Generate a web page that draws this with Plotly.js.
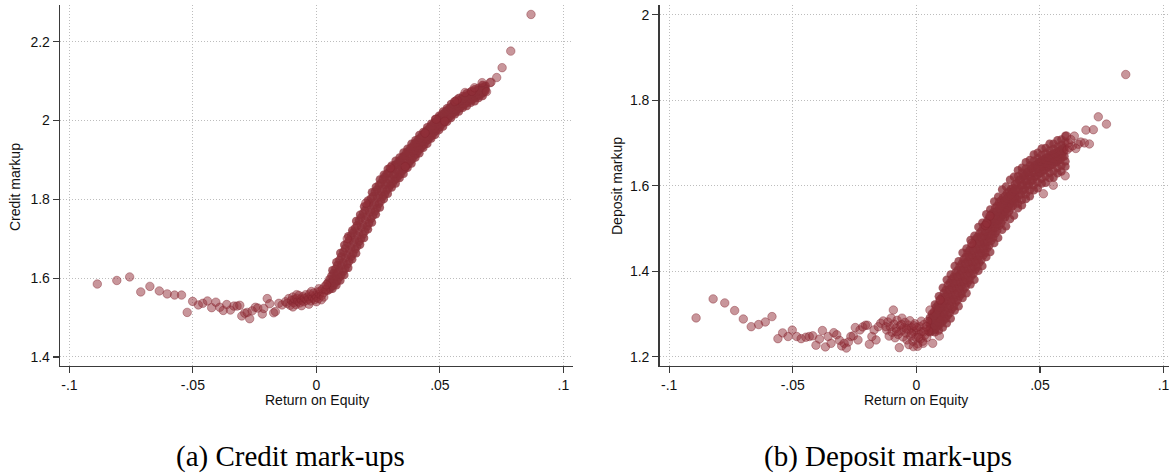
<!DOCTYPE html>
<html>
<head>
<meta charset="utf-8">
<script src="https://cdn.plot.ly/plotly-3.0.1.min.js"></script>
<style>html,body{margin:0;padding:0;background:#fff;}#chart{width:1169px;height:475px;}</style>
</head>
<body>
<div id="chart"></div>
<script>
// ---------- Panel (a): Credit mark-ups ----------
const credSparseX = [-0.0887,-0.0808,-0.0756,-0.0711,-0.0674,-0.0636,-0.0604,-0.0574,-0.0546,-0.0523,-0.0501,-0.0478,-0.0460,-0.0441,-0.0424,-0.0407,-0.0391,-0.0377,-0.0363,-0.0348,-0.0334,-0.0321,-0.0310,-0.0302,-0.0290,-0.0280,-0.0270,-0.0260,-0.0247,-0.0237,-0.0219,-0.0213,-0.0199,-0.0189,-0.0173,-0.0166,-0.0152,-0.0139,-0.0125];
const credSparseY = [1.585,1.594,1.603,1.565,1.579,1.5675,1.560,1.557,1.557,1.513,1.541,1.532,1.536,1.542,1.525,1.539,1.526,1.518,1.533,1.519,1.529,1.529,1.531,1.504,1.511,1.513,1.497,1.517,1.526,1.524,1.509,1.523,1.548,1.535,1.512,1.515,1.536,1.532,1.540];

const credNearX = [-0.0118,-0.0112,-0.0106,-0.0101,-0.0096,-0.0092,-0.0088,-0.0083,-0.0079,-0.0075,-0.0071,-0.0067,-0.0063,-0.0059,-0.0055,-0.0051,-0.0047,-0.0043,-0.0039,-0.0035,-0.0031,-0.0027,-0.0023,-0.0019,-0.0015,-0.0011,-0.0007,-0.0003,0.0001,0.0005,0.0009,0.0013,0.0017,0.0021,0.0025,0.0029,0.0033,0.0037,0.0041,-0.0095,-0.0060,-0.0030,0.0000,0.0020,-0.0080,-0.0020,0.0010,0.0030];
const credNearY = [1.536,1.548,1.531,1.543,1.552,1.538,1.546,1.533,1.549,1.541,1.556,1.537,1.547,1.543,1.553,1.540,1.549,1.558,1.544,1.552,1.547,1.560,1.542,1.555,1.549,1.562,1.545,1.556,1.551,1.565,1.548,1.559,1.567,1.556,1.572,1.563,1.578,1.570,1.583,1.527,1.530,1.534,1.540,1.545,1.558,1.566,1.573,1.552];

const credBandX = [0.0045,0.0053,0.0061,0.0069,0.0077,0.0085,0.0093,0.0101,0.0109,0.0117,0.0125,0.0133,0.0141,0.0149,0.0157,0.0165,0.0173,0.0181,0.0189,0.0197,0.0205,0.0213,0.0221,0.0229,0.0237,0.0245,0.0253,0.0261,0.0269,0.0277,0.0285,0.0293,0.0301,0.0309,0.0317,0.0325,0.0333,0.0341,0.0349,0.0357,0.0365,0.0373,0.0381,0.0389,0.0397,0.0405,0.0413,0.0421,0.0429,0.0437,0.0445,0.0453,0.0461,0.0469,0.0477,0.0485,0.0493,0.0501,0.0509,0.0517,0.0525,0.0533,0.0541,0.0549,0.0557,0.0565,0.0573,0.0581,0.0589,0.0597,0.0605,0.0613,0.0621,0.0629,0.0637,0.0645,0.0653,0.0661,0.0669,0.0677,0.0685];
const credBandLo = [1.568,1.571,1.578,1.581,1.588,1.593,1.602,1.607,1.617,1.624,1.635,1.643,1.654,1.662,1.673,1.680,1.692,1.700,1.711,1.719,1.731,1.739,1.750,1.758,1.769,1.777,1.788,1.795,1.807,1.813,1.823,1.828,1.836,1.841,1.849,1.853,1.860,1.864,1.873,1.877,1.885,1.890,1.898,1.902,1.911,1.915,1.923,1.928,1.935,1.939,1.948,1.951,1.958,1.962,1.970,1.974,1.981,1.984,1.991,1.995,2.002,2.005,2.011,2.015,2.021,2.023,2.029,2.031,2.037,2.039,2.044,2.046,2.051,2.052,2.056,2.058,2.062,2.064,2.068,2.071,2.075];
const credBandMid = [1.579,1.585,1.590,1.599,1.604,1.615,1.622,1.633,1.640,1.652,1.660,1.672,1.679,1.691,1.698,1.709,1.717,1.729,1.736,1.748,1.756,1.767,1.774,1.785,1.792,1.803,1.810,1.820,1.827,1.837,1.842,1.850,1.854,1.862,1.866,1.873,1.876,1.884,1.888,1.896,1.900,1.908,1.912,1.920,1.924,1.932,1.936,1.944,1.947,1.955,1.959,1.966,1.969,1.977,1.980,1.988,1.991,1.998,2.001,2.008,2.011,2.018,2.020,2.027,2.029,2.035,2.037,2.043,2.044,2.050,2.051,2.056,2.057,2.062,2.063,2.067,2.068,2.073,2.074,2.079,2.080];
const credBandHi = [1.588,1.597,1.606,1.613,1.624,1.633,1.646,1.655,1.667,1.676,1.689,1.697,1.708,1.716,1.727,1.734,1.746,1.754,1.765,1.773,1.785,1.791,1.802,1.808,1.819,1.825,1.836,1.841,1.851,1.857,1.865,1.868,1.876,1.879,1.887,1.889,1.896,1.900,1.907,1.911,1.919,1.922,1.930,1.934,1.941,1.945,1.953,1.956,1.963,1.967,1.974,1.977,1.984,1.988,1.994,1.998,2.005,2.009,2.015,2.018,2.024,2.027,2.033,2.035,2.041,2.043,2.048,2.051,2.055,2.057,2.062,2.063,2.067,2.068,2.072,2.073,2.077,2.078,2.083,2.084,2.088];

const credEdgeX = [0.0065,0.0081,0.0097,0.0113,0.0129,0.0145,0.0161,0.0177,0.0193,0.0209,0.0225,0.0241,0.0257,0.0273,0.0289,0.0305,0.0321,0.0337,0.0353,0.0369,0.0385,0.0401,0.0417,0.0433,0.0449,0.0465,0.0481,0.0497,0.0513,0.0529,0.0545,0.0561,0.0577,0.0593,0.0609,0.0625,0.0641,0.0657,0.0673];
const credEdgeHi = [1.620,1.640,1.664,1.684,1.706,1.721,1.745,1.761,1.782,1.797,1.818,1.831,1.850,1.862,1.877,1.886,1.898,1.906,1.919,1.928,1.941,1.950,1.963,1.971,1.983,1.992,2.004,2.012,2.023,2.031,2.042,2.048,2.057,2.062,2.069,2.073,2.079,2.083,2.090];
const credEdgeLo = [1.573,1.582,1.594,1.608,1.626,1.648,1.663,1.685,1.702,1.724,1.741,1.762,1.779,1.801,1.814,1.830,1.840,1.854,1.865,1.880,1.891,1.906,1.917,1.931,1.941,1.954,1.964,1.976,1.985,1.997,2.006,2.016,2.023,2.032,2.037,2.045,2.049,2.057,2.062];

const credTopX = [0.0569,0.0602,0.0629,0.0671,0.0703,0.0707,0.0730,0.0752,0.0787,0.0869,0.0485,0.0125,0.0200,0.0300,0.0360,0.0440,0.0520,0.0640,0.0689,0.0560];
const credTopY = [2.052,2.071,2.074,2.096,2.096,2.097,2.109,2.134,2.176,2.269,2.003,1.700,1.790,1.880,1.883,1.968,1.998,2.083,2.073,2.048];

// ---------- Panel (b): Deposit mark-ups ----------
const depSparseX = [-0.0891,-0.0822,-0.0775,-0.0735,-0.0700,-0.0668,-0.0638,-0.0611,-0.0584,-0.0560,-0.0541,-0.0519,-0.0502,-0.0484,-0.0466,-0.0447,-0.0433,-0.0419,-0.0406,-0.0392,-0.0380,-0.0368,-0.0357,-0.0345,-0.0334,-0.0322,-0.0311,-0.0302,-0.0292,-0.0283,-0.0275,-0.0265,-0.0255,-0.0247,-0.0236,-0.0228,-0.0217,-0.0206,-0.0198,-0.0190,-0.0180,-0.0171,-0.0163,-0.0154,-0.0144,-0.0134,-0.0123];
const depSparseY = [1.2905,1.335,1.3256,1.3077,1.288,1.270,1.275,1.281,1.2936,1.242,1.2555,1.247,1.262,1.247,1.242,1.2453,1.247,1.2485,1.2267,1.241,1.261,1.2227,1.247,1.231,1.256,1.251,1.238,1.225,1.231,1.220,1.234,1.247,1.2485,1.268,1.239,1.2625,1.2695,1.2734,1.2734,1.229,1.247,1.2625,1.239,1.270,1.278,1.2835,1.270];

const depNearX = [-0.0120,-0.0115,-0.0110,-0.0106,-0.0102,-0.0098,-0.0093,-0.0090,-0.0086,-0.0082,-0.0078,-0.0074,-0.0069,-0.0066,-0.0062,-0.0058,-0.0054,-0.0050,-0.0046,-0.0042,-0.0038,-0.0034,-0.0030,-0.0026,-0.0022,-0.0018,-0.0014,-0.0010,-0.0006,-0.0002,0.0002,0.0006,0.0010,0.0014,0.0018,0.0022,0.0026,0.0030,0.0034,0.0038,0.0042,0.0046,0.0050,-0.0012,0.0028,0.0066,0.0093,-0.0030,0.0005,-0.0040,-0.0020,0.0000,0.0010,0.0030,-0.0010,0.0020,0.0040,-0.0060,-0.0080];
const depNearY = [1.262,1.281,1.248,1.270,1.290,1.257,1.309,1.276,1.244,1.266,1.285,1.252,1.221,1.272,1.260,1.290,1.246,1.268,1.280,1.255,1.239,1.274,1.262,1.284,1.248,1.268,1.236,1.258,1.277,1.245,1.262,1.230,1.252,1.270,1.242,1.259,1.236,1.275,1.250,1.263,1.245,1.282,1.260,1.2234,1.231,1.231,1.248,1.228,1.224,1.265,1.255,1.268,1.245,1.258,1.272,1.283,1.270,1.275,1.258];

const depBandX = [0.0055,0.0063,0.0071,0.0079,0.0087,0.0095,0.0103,0.0111,0.0119,0.0127,0.0135,0.0143,0.0151,0.0159,0.0167,0.0175,0.0183,0.0191,0.0199,0.0207,0.0215,0.0223,0.0231,0.0239,0.0247,0.0255,0.0263,0.0271,0.0279,0.0287,0.0295,0.0303,0.0311,0.0319,0.0327,0.0335,0.0343,0.0351,0.0359,0.0367,0.0375,0.0383,0.0391,0.0399,0.0407,0.0415,0.0423,0.0431,0.0439,0.0447,0.0455,0.0463,0.0471,0.0479,0.0487,0.0495,0.0503,0.0511,0.0519,0.0527,0.0535,0.0543,0.0551,0.0559,0.0567,0.0575,0.0583,0.0591,0.0599];
const depBandLo = [1.257,1.260,1.263,1.267,1.271,1.275,1.280,1.285,1.290,1.297,1.302,1.311,1.317,1.327,1.332,1.341,1.347,1.357,1.363,1.373,1.379,1.389,1.394,1.404,1.410,1.420,1.426,1.437,1.443,1.454,1.460,1.471,1.478,1.488,1.495,1.506,1.512,1.521,1.526,1.535,1.540,1.548,1.553,1.563,1.568,1.577,1.580,1.588,1.591,1.599,1.602,1.610,1.613,1.620,1.622,1.628,1.630,1.635,1.636,1.642,1.643,1.648,1.649,1.654,1.655,1.659,1.660,1.667,1.669];
const depBandMid = [1.275,1.278,1.286,1.289,1.297,1.301,1.311,1.315,1.325,1.330,1.340,1.344,1.355,1.360,1.370,1.374,1.385,1.389,1.401,1.405,1.417,1.421,1.432,1.436,1.448,1.451,1.463,1.467,1.479,1.483,1.495,1.499,1.511,1.515,1.527,1.531,1.542,1.545,1.554,1.557,1.566,1.568,1.577,1.580,1.590,1.592,1.601,1.603,1.611,1.613,1.621,1.622,1.631,1.632,1.639,1.640,1.646,1.646,1.652,1.652,1.658,1.658,1.664,1.663,1.669,1.668,1.674,1.676,1.682];
const depBandHi = [1.291,1.300,1.305,1.315,1.321,1.331,1.338,1.349,1.356,1.367,1.372,1.381,1.387,1.397,1.402,1.411,1.417,1.427,1.433,1.443,1.449,1.459,1.464,1.474,1.480,1.488,1.494,1.503,1.509,1.518,1.524,1.533,1.538,1.548,1.553,1.562,1.566,1.573,1.576,1.583,1.586,1.592,1.595,1.603,1.606,1.613,1.616,1.622,1.625,1.631,1.634,1.640,1.643,1.648,1.650,1.656,1.657,1.661,1.662,1.666,1.667,1.672,1.673,1.676,1.677,1.681,1.682,1.687,1.689];

const depFillX = [0.0055,0.0063,0.0071,0.0079,0.0087,0.0095,0.0103,0.0111,0.0119,0.0127,0.0135,0.0143,0.0151,0.0159,0.0167,0.0175,0.0183,0.0191,0.0199,0.0207,0.0215,0.0223,0.0231,0.0239,0.0247,0.0255,0.0263,0.0271,0.0279,0.0287,0.0295,0.0303,0.0311,0.0319,0.0327,0.0335,0.0343,0.0351,0.0359,0.0367,0.0375,0.0383,0.0391,0.0399];
const depFillA = [1.266,1.270,1.273,1.279,1.283,1.289,1.294,1.301,1.306,1.315,1.320,1.329,1.335,1.345,1.350,1.359,1.365,1.375,1.381,1.391,1.397,1.407,1.412,1.422,1.428,1.437,1.443,1.453,1.460,1.469,1.477,1.486,1.494,1.502,1.510,1.519,1.527,1.533,1.540,1.546,1.553,1.558,1.565,1.571];
const depFillB = [1.284,1.288,1.296,1.301,1.310,1.315,1.325,1.331,1.341,1.347,1.357,1.362,1.372,1.377,1.387,1.392,1.402,1.407,1.418,1.423,1.434,1.439,1.449,1.454,1.465,1.469,1.479,1.484,1.494,1.500,1.510,1.516,1.524,1.531,1.540,1.547,1.554,1.559,1.565,1.570,1.576,1.580,1.586,1.591];

const depUpperX = [0.0411,0.0427,0.0443,0.0459,0.0475,0.0491,0.0507,0.0523,0.0539,0.0555,0.0571,0.0587,0.0603];
const depUpperLo = [1.558,1.567,1.580,1.589,1.601,1.608,1.617,1.622,1.630,1.634,1.642,1.647,1.657];
const depUpperHi = [1.622,1.630,1.640,1.647,1.658,1.664,1.672,1.675,1.682,1.686,1.691,1.695,1.703];

const depEdgeX = [0.0075,0.0091,0.0107,0.0123,0.0139,0.0155,0.0171,0.0187,0.0203,0.0219,0.0235,0.0251,0.0267,0.0283,0.0299,0.0315,0.0331,0.0347,0.0363,0.0379,0.0395,0.0411,0.0427,0.0443,0.0459,0.0475,0.0491,0.0507,0.0523,0.0539,0.0555,0.0571,0.0587,0.0603];
const depEdgeHi = [1.322,1.341,1.361,1.380,1.392,1.412,1.423,1.443,1.453,1.473,1.483,1.503,1.513,1.533,1.544,1.563,1.574,1.591,1.598,1.614,1.621,1.636,1.642,1.655,1.660,1.673,1.677,1.687,1.688,1.698,1.698,1.706,1.708,1.717];
const depEdgeLo = [1.257,1.261,1.268,1.278,1.289,1.308,1.318,1.337,1.348,1.369,1.380,1.401,1.412,1.433,1.445,1.466,1.478,1.497,1.505,1.522,1.530,1.547,1.554,1.569,1.575,1.589,1.594,1.605,1.607,1.618,1.619,1.629,1.633,1.645];

const depTopX = [0.0610,0.0620,0.0632,0.0645,0.0655,0.0665,0.0680,0.0615,0.0625,0.0608,0.0639,0.0686,0.0716,0.0736,0.0769,0.0847,0.0700,0.0602,0.0554,0.0514,0.0298,0.0279,0.0224,0.0285,0.0055,0.0096];
const depTopY = [1.684,1.689,1.693,1.687,1.697,1.702,1.700,1.700,1.708,1.716,1.716,1.730,1.731,1.761,1.744,1.860,1.6975,1.623,1.601,1.581,1.529,1.507,1.465,1.512,1.309,1.3327];

// ---------- tick labels / texts ----------
const xTickVals = [-0.1,-0.05,0,0.05,0.1];
const xTickText = ['-.1','-.05','0','.05','.1'];
const credTickVals = [1.4,1.6,1.8,2,2.2];
const credTickText = ['1.4','1.6','1.8','2','2.2'];
const depTickVals = [1.2,1.4,1.6,1.8,2];
const depTickText = ['1.2','1.4','1.6','1.8','2'];

const W = 1169, H = 475;
// dense core of each scatter (fills merge to a solid band)
const credCoreX = [].concat(credEdgeX, credEdgeX, credBandX, credBandX, credBandX);
const credCoreY = [].concat(credEdgeLo, credEdgeHi, credBandLo, credBandMid, credBandHi);
const depCoreX = [].concat(depEdgeX, depEdgeX, depBandX, depBandX, depBandX, depFillX, depFillX, depUpperX, depUpperX);
const depCoreY = [].concat(depEdgeLo, depEdgeHi, depBandLo, depBandMid, depBandHi, depFillA, depFillB, depUpperLo, depUpperHi);
// isolated points (outlined circles)
const credRestX = [].concat(credSparseX, credNearX, credTopX);
const credRestY = [].concat(credSparseY, credNearY, credTopY);
const depRestX = [].concat(depSparseX, depNearX, depTopX);
const depRestY = [].concat(depSparseY, depNearY, depTopY);

const coreMarker = {symbol: 'circle', size: 8.5, color: 'rgba(140,48,56,0.78)', line: {width: 0}};
const marker = {
  symbol: 'circle', size: 8.5,
  color: 'rgba(146,46,56,0.5)',
  line: {color: 'rgba(132,38,48,0.45)', width: 0.9}
};

const traces = [
  {type: 'scatter', mode: 'markers', x: credCoreX, y: credCoreY, xaxis: 'x', yaxis: 'y', marker: coreMarker, hoverinfo: 'skip'},
  {type: 'scatter', mode: 'markers', x: credRestX, y: credRestY, xaxis: 'x', yaxis: 'y', marker: marker, hoverinfo: 'skip'},
  {type: 'scatter', mode: 'markers', x: depCoreX, y: depCoreY, xaxis: 'x2', yaxis: 'y2', marker: coreMarker, hoverinfo: 'skip'},
  {type: 'scatter', mode: 'markers', x: depRestX, y: depRestY, xaxis: 'x2', yaxis: 'y2', marker: marker, hoverinfo: 'skip'}
];

const axisFont = {family: 'Liberation Sans, Arial, sans-serif', size: 14, color: '#111'};
function baseAx() {
  return {showline: true, linecolor: '#3a3a3a', linewidth: 1.3, ticks: 'outside', ticklen: 6, tickwidth: 1.2, tickcolor: '#3a3a3a',
    showgrid: true, gridcolor: '#bdbdbd', gridwidth: 1, griddash: '1px,2px', zeroline: false, tickfont: axisFont,
    fixedrange: true, tickmode: 'array', ticklabeloverflow: 'allow'};
}
function xAx(domain, range, anchor) {
  return Object.assign(baseAx(), {domain: domain, range: range, anchor: anchor, tickvals: xTickVals, ticktext: xTickText});
}
function yAx(domain, range, anchor, tv, tt) {
  return Object.assign(baseAx(), {domain: domain, range: range, anchor: anchor, tickvals: tv, ticktext: tt});
}
const yDom = [1 - 366 / H, 1 - 5 / H];
const capFont = {family: 'Liberation Serif, Times New Roman, serif', size: 29, color: '#000'};
const layout = {
  width: W, height: H, margin: {l: 0, r: 0, t: 0, b: 0}, showlegend: false,
  paper_bgcolor: '#fff', plot_bgcolor: '#fff',
  xaxis: xAx([60 / W, 573 / W], [-0.1038, 0.1039], 'y'),
  yaxis: yAx(yDom, [1.377, 2.293], 'x', credTickVals, credTickText),
  xaxis2: xAx([659.5 / W, 1], [-0.1039, 0.1022], 'y2'),
  yaxis2: yAx(yDom, [1.178, 2.0227], 'x2', depTickVals, depTickText),
  annotations: [
    {text: 'Return on Equity', xref: 'paper', yref: 'paper', x: 316.5 / W, y: 1 - 400 / H, xanchor: 'center', yanchor: 'middle', showarrow: false, font: axisFont},
    {text: 'Return on Equity', xref: 'paper', yref: 'paper', x: 916 / W, y: 1 - 400 / H, xanchor: 'center', yanchor: 'middle', showarrow: false, font: axisFont},
    {text: 'Credit markup', xref: 'paper', yref: 'paper', x: 15 / W, y: 1 - 187 / H, xanchor: 'center', yanchor: 'middle', textangle: -90, showarrow: false, font: axisFont},
    {text: 'Deposit markup', xref: 'paper', yref: 'paper', x: 617 / W, y: 1 - 186 / H, xanchor: 'center', yanchor: 'middle', textangle: -90, showarrow: false, font: axisFont},
    {text: '(a) Credit mark-ups', xref: 'paper', yref: 'paper', x: 290 / W, y: 1 - 456 / H, xanchor: 'center', yanchor: 'middle', showarrow: false, font: capFont},
    {text: '(b) Deposit mark-ups', xref: 'paper', yref: 'paper', x: 888 / W, y: 1 - 456 / H, xanchor: 'center', yanchor: 'middle', showarrow: false, font: capFont}
  ]
};
Plotly.newPlot('chart', traces, layout, {displayModeBar: false, staticPlot: true});
</script>
</body>
</html>
